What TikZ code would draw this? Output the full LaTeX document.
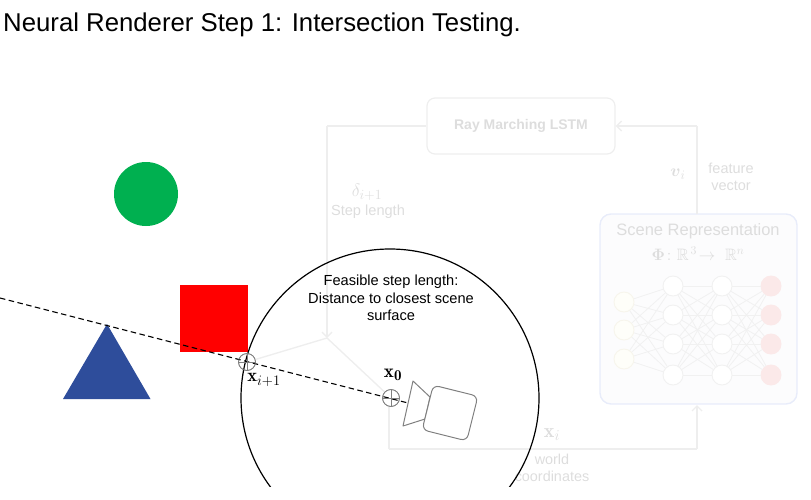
\RequirePackage{fix-cm}
\documentclass[tikz,border=0pt]{standalone}
\usepackage{amsmath,amssymb}
\usepackage{fontspec}
\setsansfont{Liberation Sans}
\usetikzlibrary{arrows.meta,shapes.geometric}
\DeclareMathSizes{16.5}{16.5}{12}{9}
\DeclareMathSizes{17}{17}{13}{10}
\DeclareMathSizes{18}{18}{14}{10}
\DeclareMathSizes{18.5}{18.5}{14.5}{11}
\DeclareMathSizes{19}{19}{15}{11}
\DeclareMathSizes{20}{20}{15}{11}
\definecolor{fadeline}{HTML}{EEEEEE}
\definecolor{fadetext}{HTML}{DDDDDD}
\definecolor{scenedge}{HTML}{E8ECFA}
\definecolor{scenefill}{HTML}{FCFCFD}
\definecolor{netline}{HTML}{F1F1F1}
\definecolor{inputedge}{HTML}{F7F5EC}
\definecolor{inputfill}{HTML}{FEFEF9}
\definecolor{outputfill}{HTML}{FBE9E9}
\definecolor{shapeblue}{HTML}{2E4D9B}
\definecolor{shapegreen}{HTML}{00B050}

\begin{document}
\begin{tikzpicture}[
  x=1pt, y=-1pt,
  font=\sffamily,
  % ---- Node styles ----
  fadebox/.style={draw=fadeline, line width=1.2pt, rounded corners=8pt, minimum width=188pt,
                  minimum height=56pt, inner sep=0pt},
  scenebox/.style={draw=scenedge, fill=scenefill, line width=1.4pt, rounded corners=11pt,
                   minimum width=197pt, minimum height=190pt, inner sep=0pt},
  fadelabel/.style={text=fadetext, align=center, inner sep=0pt},
  neuron/.style={circle, draw=netline, fill=white, line width=0.9pt, minimum size=20pt, inner sep=0pt},
  neuronin/.style={neuron, draw=inputedge, fill=inputfill},
  neuronout/.style={neuron, draw=outputfill, fill=outputfill},
  cross/.style={circle, draw=gray, line width=0.7pt, minimum size=17pt, inner sep=0pt},
  mathlabel/.style={inner sep=0pt},
  % ---- Lines ----
  fadeflow/.style={draw=fadeline, line width=1.4pt},
  fadearrow/.style={fadeflow, -{Straight Barb[length=5pt,width=10pt]}},
  ray/.style={black, line width=1.1pt, dash pattern=on 5.5pt off 3.5pt}
]
\useasboundingbox (0,0) rectangle (811,499);

% ===== Title =====
\node[anchor=base west, inner sep=0pt, font=\sffamily\fontsize{25.75}{30}\selectfont] (title) at (3,31)
  {Neural Renderer Step 1: Intersection Testing.};

% ===== Faded model =====
\node[fadebox] (lstm) at (521,126) {\textcolor{fadetext}{\fontsize{14}{16}\selectfont\bfseries Ray Marching LSTM}};
\node[scenebox] (scene) at (698.5,309) {};
\coordinate (join) at (327,338);
\coordinate (cornerA) at (327,126);
\coordinate (cornerB) at (697,126);
\coordinate (cornerC) at (389,449);
\coordinate (cornerD) at (697,449);
\coordinate (sceneTop) at (697,214);
\coordinate (sceneBot) at (697,405);

\draw[fadeflow] (sceneTop) -- (cornerB);
\draw[fadearrow] (cornerB) -- (lstm.east);
\draw[fadeflow] (lstm.west) -- (cornerA);
\draw[fadearrow] (cornerA) -- (join);
\draw[fadeflow] (cornerC) -- (cornerD);
\draw[fadearrow] (cornerD) -- (sceneBot);

\node[fadelabel, font=\fontsize{18}{20}\selectfont] (deltaT) at (367,192) {$\delta_{i+1}$};
\node[fadelabel, font=\sffamily\fontsize{14.6}{16}\selectfont] (stepT) at (368,212) {Step length};
\node[fadelabel, font=\fontsize{17}{20}\selectfont] (vT) at (678,174) {$\boldsymbol{v}_i$};
\node[fadelabel, font=\sffamily\fontsize{14.5}{17.5}\selectfont] (featT) at (731,177) {feature\\vector};
\node[fadelabel, font=\fontsize{20}{22}\selectfont] (xT) at (552,435) {$\mathbf{x}_i$};
\node[fadelabel, font=\sffamily\fontsize{14.4}{17.5}\selectfont] (worldT) at (552,468) {world\\coordinates};
\node[fadelabel, font=\sffamily\fontsize{16.5}{18}\selectfont] (sceneT) at (698,231) {Scene Representation};
\node[fadelabel, font=\fontsize{16.5}{18}\selectfont] (phiT) at (698,254) {$\boldsymbol{\Phi}\colon\mathbb{R}^{\,3}\!\rightarrow\ \mathbb{R}^{n}$};

% neural net, layers left to right
\foreach \n/\y in {1/302,2/330,3/359}
  \node[neuronin] (a\n) at (624,\y) {};
\foreach \n/\y in {1/286,2/315,3/344,4/375} {
  \node[neuron] (b\n) at (673,\y) {};
  \node[neuron] (c\n) at (722,\y) {};
  \node[neuronout] (d\n) at (771,\y) {};
}
\foreach \i in {1,2,3}
  \foreach \j in {1,2,3,4}
    \draw[netline, line width=0.8pt] (a\i) -- (b\j);
\foreach \i in {1,2,3,4}
  \foreach \j in {1,2,3,4} {
    \draw[netline, line width=0.8pt] (b\i) -- (c\j);
    \draw[netline, line width=0.8pt] (c\i) -- (d\j);
  }

% ===== Scene shapes =====
\node[circle, fill=shapegreen, minimum size=64pt, inner sep=0pt] (ball) at (146,194) {};
\node[fill=red, minimum width=68pt, minimum height=67pt, inner sep=0pt] (box) at (214,318.5) {};
\fill[shapeblue] (107,324) -- (150.5,399) -- (63,399) -- cycle;

% ===== Faded rays to the join =====
\node[cross] (hit) at (247,362) {};
\node[cross] (origin) at (391,398) {};
\draw[fadeflow] (hit) -- (join);
\draw[fadeflow] (join) -- (origin);
\draw[fadeflow] (origin.south) ++(-2,0) coordinate (originDown) -- (cornerC);

% ===== Feasible sphere =====
\begin{scope}
  \clip (0,0) rectangle (811,486.5);
  \draw[black, line width=1.2pt] (390,398) circle[radius=149pt];
\end{scope}
\node[align=center, inner sep=0pt, font=\sffamily\fontsize{14.6}{17.5}\selectfont] (feasible) at (391,298)
  {Feasible step length:\\Distance to closest scene\\surface};

% ===== Ray and markers =====
\coordinate (rayStart) at (0,298);
\coordinate (rayEnd) at (408,403);
\draw[ray] (rayStart) -- (rayEnd);
\foreach \p in {hit,origin} {
  \draw[gray, line width=0.6pt] (\p.west) -- (\p.east);
  \draw[gray, line width=0.6pt] (\p.north) -- (\p.south);
  \node[cross] at (\p) {};
}
\node[mathlabel, font=\fontsize{18.5}{20}\selectfont] (hitT) at (264,380) {$\mathbf{x}_{i+1}$};
\node[mathlabel, font=\fontsize{19}{21}\selectfont] (originT) at (393,375) {$\mathbf{x}_{\mathbf{0}}$};

% ===== Camera =====
\draw[gray, line width=1pt, line join=round] (413,381) -- (430,397) -- (425,419) -- (403,426) -- cycle;
\node[draw=gray, fill=white, line width=1pt, rounded corners=6pt, rotate=-14,
      minimum width=46pt, minimum height=46pt, inner sep=0pt] (camera) at (450,413) {};
\end{tikzpicture}
\end{document}
